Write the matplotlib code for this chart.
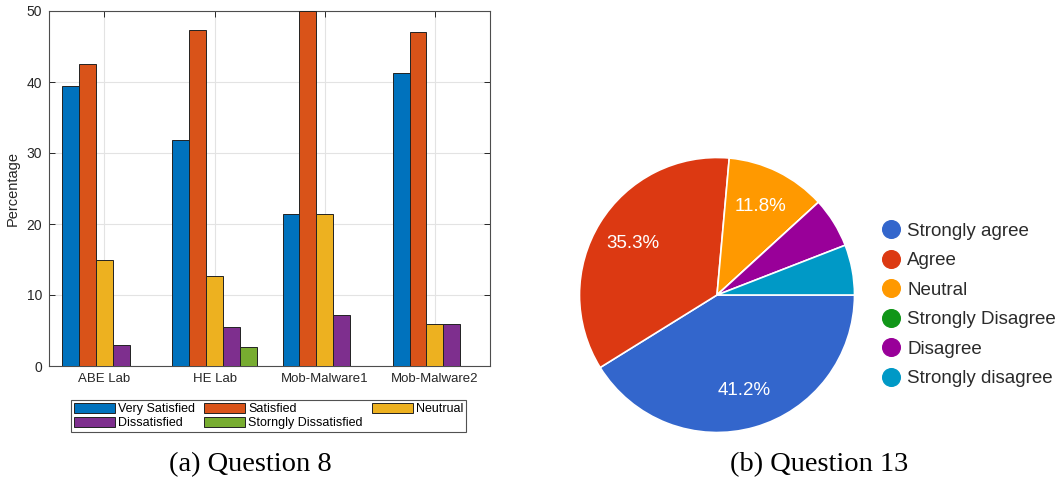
import numpy as np
import matplotlib
matplotlib.use("Agg")
import matplotlib.pyplot as plt
from matplotlib.lines import Line2D

# ---- Question 8: satisfaction per lab (percent) ----
labs = ["ABE Lab", "HE Lab", "Mob-Malware1", "Mob-Malware2"]
q8_levels = ["Very Satisfied", "Satisfied", "Neutrual", "Dissatisfied", "Storngly Dissatisfied"]
very_satisfied = [39.5, 31.8, 21.4, 41.2]
satisfied = [42.5, 47.3, 50.0, 47.1]
neutral = [14.9, 12.7, 21.4, 5.9]
dissatisfied = [3.0, 5.5, 7.2, 5.9]
strongly_dissatisfied = [0.0, 2.7, 0.0, 0.0]
y_ticks = [0, 10, 20, 30, 40, 50]

# ---- Question 13: agreement (percent) ----
q13_labels = ["Strongly agree", "Agree", "Neutral", "Strongly Disagree", "Disagree", "Strongly disagree"]
q13_values = [41.2, 35.3, 11.8, 0.0, 5.9, 5.9]

bar_colors = ["#0072BD", "#D95319", "#EDB120", "#7E2F8E", "#77AC30"]
pie_colors = ["#3366CC", "#DC3912", "#FF9900", "#109618", "#990099", "#0099C6"]

W, H = 1062, 482
fig = plt.figure(figsize=(W / 100, H / 100), dpi=100)

def fx(px):
    return px / W

def fy(py):
    return 1 - py / H

# ---------------- grouped bar chart ----------------
sans = "Liberation Sans"
ax = fig.add_axes([fx(49.3), fy(366), fx(490) - fx(49.3), fy(11) - fy(366)])
series = [very_satisfied, satisfied, neutral, dissatisfied, strongly_dissatisfied]
x = np.arange(1, len(labs) + 1)
bw = 0.153
handles = []
for j, (vals, col, name) in enumerate(zip(series, bar_colors, q8_levels)):
    h = ax.bar(x + (j - 2) * bw, vals, width=bw, color=col, edgecolor="#222222",
               linewidth=0.7, label=name, zorder=3)
    handles.append(h)

ax.set_xlim(0.5, 4.5)
ax.set_ylim(0, 50)
ax.set_xticks(x)
ax.set_xticklabels(labs, fontsize=9.5, family=sans, color="#262626")
ax.set_yticks(y_ticks)
ax.set_yticklabels([str(v) for v in y_ticks], fontsize=10, family=sans, color="#262626")
ax.set_ylabel("Percentage", fontsize=10.5, family=sans, color="#262626", labelpad=5)
ax.grid(True, color="#e3e3e3", linewidth=0.8, zorder=0)
ax.set_axisbelow(True)
ax.tick_params(direction="in", length=4, width=0.7, color="#262626",
               top=True, right=True, pad=5)
for s in ax.spines.values():
    s.set_color("#4d4d4d")
    s.set_linewidth(0.8)

# legend laid out row by row: VS S N / D SD
order = [0, 3, 1, 4, 2]
leg = fig.legend([handles[i] for i in order], [q8_levels[i] for i in order],
                 ncol=3, loc="center", bbox_to_anchor=(fx(268.5), fy(416)),
                 prop={"family": sans, "size": 9}, frameon=True, fancybox=False,
                 edgecolor="#262626", handlelength=3.3, handleheight=0.85,
                 handletextpad=0.25, columnspacing=0.7, labelspacing=0.15,
                 borderpad=0.25, borderaxespad=0)
leg.get_frame().set_linewidth(0.8)

fig.text(fx(250), fy(465), "(a) Question 8", family="Liberation Serif",
         fontsize=20.5, ha="center", va="center")

# ---------------- pie chart ----------------
cx, cy, r = 717, 295, 137.5
pax = fig.add_axes([fx(cx - r), fy(cy + r), fx(2 * r), fy(cy - r) - fy(cy + r)])
wedges, texts, autotexts = pax.pie(
    q13_values, colors=pie_colors, startangle=0, counterclock=False,
    autopct=lambda p: f"{p:.1f}%" if p >= 10 else "", pctdistance=0.72,
    wedgeprops={"edgecolor": "white", "linewidth": 1.2},
    textprops={"color": "white", "fontsize": 13.5, "family": sans})
pax.set_xlim(-1, 1)
pax.set_ylim(-1, 1)
pax.set_aspect("equal")
pax.axis("off")

pie_handles = [Line2D([], [], marker="o", linestyle="none", markersize=12.7,
                      markerfacecolor=c, markeredgecolor=c) for c in pie_colors]
fig.legend(pie_handles, q13_labels, loc="center left",
           bbox_to_anchor=(fx(882), fy(305)), frameon=False,
           prop={"family": sans, "size": 13.5}, handlelength=1.0,
           handletextpad=0.35, labelspacing=0.66, borderpad=0, borderaxespad=0,
           labelcolor="#2b2b2b")

fig.text(fx(819), fy(465), "(b) Question 13", family="Liberation Serif",
         fontsize=20.5, ha="center", va="center")

fig.savefig("out.png", dpi=100, facecolor="white")
